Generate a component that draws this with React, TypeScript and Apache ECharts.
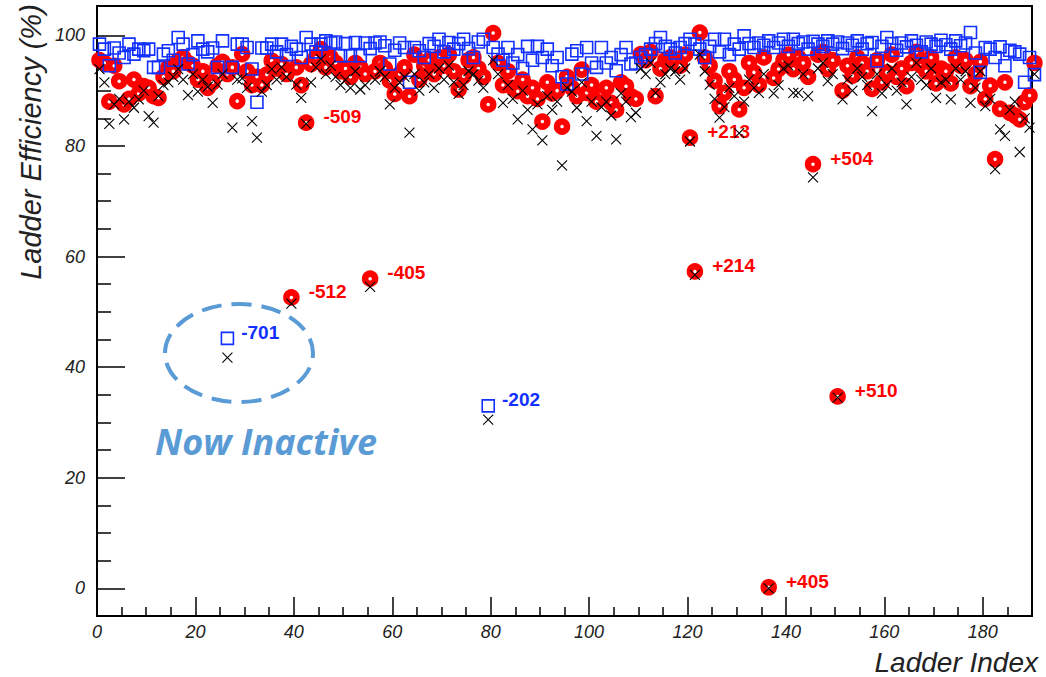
import React, { useEffect, useRef } from "react";
import * as echarts from "echarts";

// Axis ranges and tick positions
const X_MIN = 0;
const X_MAX = 190;
const Y_MIN = -5;
const Y_MAX = 105.3;
const xMajorTicks = [0, 20, 40, 60, 80, 100, 120, 140, 160, 180];
const xMinorTicks = [
  5, 10, 15, 25, 30, 35, 45, 50, 55, 65, 70, 75, 85, 90, 95, 105, 110, 115, 125, 130, 135, 145,
  150, 155, 165, 170, 175, 185,
];
const yMajorTicks = [0, 20, 40, 60, 80, 100];
const yMinorTicks = [5, 10, 15, 25, 30, 35, 45, 50, 55, 65, 70, 75, 85, 90, 95];

// Per-ladder efficiencies (%), ladder i plotted at i + 0.5
const blueEff = [
  98.4, 97.5, 94.5, 97.7, 96.8, 96.0, 98.4, 96.6, 97.5, 97.2,
  97.5, 94.2, 94.2, 96.6, 97.2, 95.5, 99.6, 98.4, 94.8, 96.5,
  99.0, 97.5, 97.0, 97.7, 94.2, 99.0, 45.2, 94.2, 98.4, 98.4,
  97.8, 93.9, 87.9, 97.7, 97.7, 98.4, 97.0, 98.4, 96.5, 98.0,
  97.5, 96.0, 99.6, 98.4, 97.0, 98.4, 99.0, 98.6, 98.8, 96.3,
  98.5, 96.3, 98.7, 96.3, 98.6, 97.6, 98.6, 98.8, 98.1, 94.8,
  97.3, 98.6, 97.8, 91.5, 97.8, 97.2, 96.0, 98.5, 98.0, 99.3,
  97.0, 98.7, 97.5, 98.5, 99.3, 97.6, 96.0, 98.8, 99.3, 33.0,
  97.8, 96.6, 95.5, 97.8, 95.0, 96.5, 94.0, 98.0, 95.5, 98.0,
  96.0, 97.5, 94.5, 96.0, 92.5, 91.2, 96.6, 97.2, 93.0, 97.8,
  95.0, 94.2, 97.8, 95.0, 96.0, 93.6, 96.5, 97.8, 94.8, 95.0,
  96.0, 96.5, 97.5, 98.5, 99.6, 98.0, 97.5, 96.8, 97.8, 98.5,
  99.3, 98.4, 97.5, 96.0, 98.0, 99.3, 97.0, 99.3, 96.5, 98.4,
  97.5, 99.9, 98.5, 97.8, 98.6, 98.2, 99.0, 97.8, 98.6, 99.3,
  98.0, 99.3, 98.5, 98.8, 97.5, 98.9, 98.4, 98.0, 99.0, 98.4,
  98.8, 97.6, 98.6, 98.2, 99.0, 97.5, 98.5, 98.7, 95.4, 98.0,
  99.6, 98.5, 97.3, 98.6, 97.9, 99.0, 98.2, 97.0, 98.8, 98.4,
  98.0, 99.1, 98.3, 97.5, 99.0, 98.1, 98.6, 100.5, 96.8, 93.3,
  97.8, 97.5, 96.0, 97.9, 94.5, 97.3, 97.0, 96.6, 91.5, 96.0, 92.9,
];

const redEff = [
  95.5, 95.0, 88.0, 94.5, 91.7, 87.5, 88.5, 92.0, 89.5, 90.8,
  90.5, 89.0, 88.7, 92.5, 94.2, 93.5, 95.4, 96.0, 95.0, 94.5,
  92.0, 93.5, 90.5, 91.5, 94.5, 95.2, 93.0, 94.2, 88.1, 96.6,
  93.5, 91.0, 92.5, 91.0, 92.9, 95.4, 94.0, 94.8, 93.0, 52.6,
  94.2, 91.0, 84.2, 94.8, 96.0, 97.5, 94.2, 96.0, 95.0, 93.5,
  94.0, 92.5, 95.0, 94.2, 93.0, 56.0, 93.5, 95.0, 94.0, 91.8,
  89.4, 93.0, 94.2, 89.0, 96.5, 92.0, 94.5, 95.5, 93.0, 96.0,
  94.5, 96.5, 93.5, 90.2, 92.6, 95.5, 96.0, 94.0, 92.5, 87.5,
  100.4, 95.0, 91.0, 93.5, 90.5, 89.9, 92.0, 89.0, 90.5, 88.5,
  84.4, 91.5, 89.5, 90.0, 83.5, 92.5, 90.5, 89.0, 93.8, 89.6,
  91.0, 88.0, 89.6, 90.5, 87.8, 86.5, 91.5, 90.8, 89.0, 88.5,
  96.6, 95.5, 97.0, 89.0, 94.0, 95.5, 96.0, 95.4, 94.5, 96.5,
  81.5, 57.3, 100.5, 96.0, 94.5, 91.8, 87.2, 89.6, 93.5, 92.0,
  86.6, 90.5, 95.0, 93.3, 91.0, 96.0, 0.2, 92.3, 93.9, 95.5,
  96.5, 93.9, 96.0, 95.0, 92.5, 76.7, 96.5, 97.0, 93.9, 95.5,
  34.7, 90.0, 94.5, 92.7, 96.0, 95.0, 93.5, 90.3, 95.5, 91.5,
  93.3, 96.5, 92.5, 94.0, 90.8, 95.0, 97.0, 94.5, 93.5, 96.0,
  91.3, 94.0, 93.5, 91.3, 96.0, 94.5, 95.5, 90.8, 93.0, 95.2,
  88.5, 90.9, 77.6, 86.7, 91.5, 86.0, 85.5, 84.8, 87.9, 89.1, 95.0,
];

const blackEff = [
  93.9, 91.5, 84.0, 87.5, 88.5, 84.8, 88.0, 86.9, 88.4, 90.0,
  85.4, 84.2, 89.0, 91.0, 91.5, 92.5, 93.9, 92.0, 89.2, 93.0,
  89.8, 92.0, 90.7, 87.8, 91.1, 93.0, 41.7, 83.3, 92.0, 92.2,
  90.5, 84.5, 81.5, 89.8, 91.0, 93.9, 92.0, 94.2, 92.5, 51.5,
  91.1, 88.7, 84.0, 91.5, 94.2, 95.7, 93.0, 94.5, 92.5, 91.0,
  92.0, 90.5, 93.5, 90.2, 91.0, 54.5, 92.0, 93.5, 92.5, 87.5,
  90.5, 91.5, 92.5, 82.4, 93.0, 90.0, 91.5, 93.0, 90.5, 94.0,
  92.0, 94.5, 91.5, 89.4, 91.0, 93.5, 93.0, 91.8, 90.5, 30.5,
  95.5, 93.0, 87.8, 91.0, 88.5, 84.8, 90.0, 86.5, 83.0, 87.5,
  81.0, 89.0, 86.5, 88.0, 76.5, 90.5, 89.8, 86.9, 91.5, 84.5,
  88.0, 81.8, 87.0, 88.0, 85.5, 81.2, 89.5, 88.0, 85.2, 86.0,
  94.0, 93.0, 95.0, 89.6, 91.5, 93.0, 94.0, 93.5, 92.0, 94.0,
  80.8, 56.7, 96.5, 93.5, 91.1, 88.5, 85.1, 87.0, 90.5, 89.0,
  82.3, 88.0, 92.0, 90.5, 89.6, 93.0, 0.0, 89.5, 91.0, 94.0,
  94.5, 89.6, 89.6, 93.0, 89.0, 74.3, 94.0, 95.0, 91.7, 93.0,
  34.5, 88.4, 92.0, 90.0, 94.0, 92.5, 91.0, 86.3, 93.0, 89.5,
  91.0, 94.0, 90.0, 91.5, 87.5, 92.5, 95.0, 92.0, 91.0, 94.0,
  88.7, 91.5, 92.0, 88.4, 94.0, 92.0, 93.5, 87.8, 90.5, 93.5,
  87.2, 88.5, 75.8, 83.0, 81.8, 86.5, 88.0, 78.9, 85.0, 83.3, 93.0,
];

// Labelled ladders
const redLabelLadders = [39, 42, 55, 120, 121, 136, 145, 150];
const redLabelTexts = ["-512", "-509", "-405", "+213", "+214", "+405", "+504", "+510"];
const blueLabelLadders = [26, 79];
const blueLabelTexts = ["-701", "-202"];

const RED = "#ff0000";
const BLUE = "#1230ff";
const NOTE_BLUE = "#5b9bd5";
const SANS = '"Liberation Sans", Arial, Helvetica, sans-serif';

function buildPoints(
  values: number[],
  labelLadders: number[],
  labelTexts: string[],
  labelColor: string,
  distance: number
) {
  return values.map((v, i) => {
    const k = labelLadders.indexOf(i);
    if (k < 0) return [i + 0.5, v];
    return {
      value: [i + 0.5, v],
      label: {
        show: true,
        formatter: labelTexts[k],
        position: "right",
        distance,
        offset: [0, -6],
        color: labelColor,
        fontWeight: "bold",
        fontSize: 19,
        fontFamily: SANS,
      },
    };
  });
}

export default function App() {
  const ref = useRef<HTMLDivElement>(null);

  useEffect(() => {
    const chart = echarts.init(ref.current!, null, { renderer: "svg" });
    const tickLine = { color: "#000", width: 1.5 };
    const labelStyle = {
      fontStyle: "italic",
      fontSize: 18,
      color: "#222",
      fontFamily: SANS,
    };

    chart.setOption({
      animation: false,
      backgroundColor: "#fff",
      grid: {
        left: 97,
        right: 14,
        top: 6,
        bottom: 61,
        show: true,
        borderColor: "#000",
        borderWidth: 2,
        backgroundColor: "#fff",
      },
      xAxis: [
        {
          type: "value",
          min: X_MIN,
          max: X_MAX,
          position: "bottom",
          axisLine: { show: true, onZero: false, lineStyle: { color: "#000", width: 2 } },
          axisTick: { show: true, inside: true, length: 19, customValues: xMajorTicks, lineStyle: tickLine },
          axisLabel: { ...labelStyle, margin: 7, customValues: xMajorTicks },
          splitLine: { show: false },
        },
        {
          type: "value",
          min: X_MIN,
          max: X_MAX,
          position: "bottom",
          axisLine: { show: false, onZero: false },
          axisTick: { show: true, inside: true, length: 9, customValues: xMinorTicks, lineStyle: tickLine },
          axisLabel: { show: false },
          splitLine: { show: false },
        },
      ],
      yAxis: [
        {
          type: "value",
          min: Y_MIN,
          max: Y_MAX,
          position: "left",
          axisLine: { show: true, onZero: false, lineStyle: { color: "#000", width: 2 } },
          axisTick: { show: true, inside: true, length: 28, customValues: yMajorTicks, lineStyle: tickLine },
          axisLabel: { ...labelStyle, margin: 12, customValues: yMajorTicks },
          splitLine: { show: false },
        },
        {
          type: "value",
          min: Y_MIN,
          max: Y_MAX,
          position: "left",
          axisLine: { show: false, onZero: false },
          axisTick: { show: true, inside: true, length: 14, customValues: yMinorTicks, lineStyle: tickLine },
          axisLabel: { show: false },
          splitLine: { show: false },
        },
      ],
      series: [
        {
          type: "scatter",
          name: "red",
          xAxisIndex: 0,
          yAxisIndex: 0,
          clip: false,
          silent: true,
          z: 2,
          symbol: "circle",
          symbolSize: 10,
          itemStyle: { color: "#fff", borderColor: RED, borderWidth: 6.5, opacity: 1 },
          data: buildPoints(redEff, redLabelLadders, redLabelTexts, RED, 9),
        },
        {
          type: "scatter",
          name: "blue",
          xAxisIndex: 0,
          yAxisIndex: 0,
          clip: false,
          silent: true,
          z: 3,
          symbol: "rect",
          symbolSize: 12,
          itemStyle: { color: "rgba(0,0,0,0)", borderColor: BLUE, borderWidth: 1.6, opacity: 1 },
          data: buildPoints(blueEff, blueLabelLadders, blueLabelTexts, BLUE, 7),
        },
        {
          type: "scatter",
          name: "black",
          xAxisIndex: 0,
          yAxisIndex: 0,
          clip: false,
          silent: true,
          z: 4,
          symbol: "path://M0,0L10,10M10,0L0,10",
          symbolSize: 10,
          itemStyle: { color: "rgba(0,0,0,0)", borderColor: "#000", borderWidth: 1.1, opacity: 1 },
          data: blackEff.map((v, i) => [i + 0.5, v]),
        },
      ],
      graphic: [
        {
          type: "text",
          x: 31,
          y: 142,
          rotation: Math.PI / 2,
          style: {
            text: "Ladder Efficiency (%)",
            fontSize: 29,
            fontStyle: "italic",
            fontFamily: SANS,
            fill: "#222",
            align: "center",
            verticalAlign: "middle",
          },
        },
        {
          type: "text",
          x: 1038,
          y: 662,
          style: {
            text: "Ladder Index",
            fontSize: 28,
            fontStyle: "italic",
            fontFamily: SANS,
            fill: "#222",
            align: "right",
            verticalAlign: "middle",
          },
        },
        {
          type: "ellipse",
          shape: { cx: 239, cy: 353, rx: 74, ry: 49 },
          style: { fill: "none", stroke: NOTE_BLUE, lineWidth: 4, lineDash: [20, 10] },
          z: 10,
        },
        {
          type: "text",
          x: 155,
          y: 441,
          z: 10,
          style: {
            text: "Now Inactive",
            fontSize: 36,
            fontWeight: "bold",
            fontStyle: "italic",
            fontFamily: "'Open Sans', Lato, sans-serif",
            fill: NOTE_BLUE,
            align: "left",
            verticalAlign: "middle",
          },
        },
      ],
    });

    return () => chart.dispose();
  }, []);

  return (
    <div
      ref={ref}
      style={{ position: "fixed", left: 0, top: 0, width: 1046, height: 677, background: "#fff" }}
    />
  );
}
